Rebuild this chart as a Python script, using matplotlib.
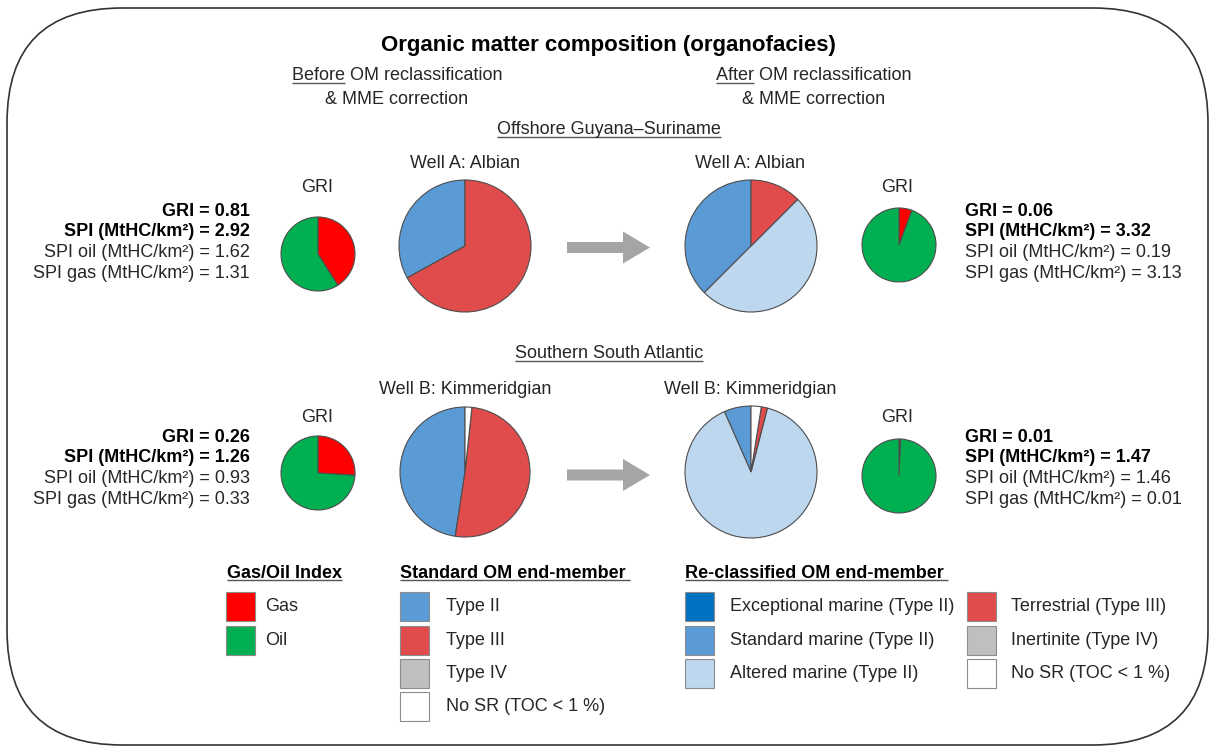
import matplotlib
matplotlib.use("Agg")
import matplotlib.pyplot as plt
from matplotlib.patches import FancyBboxPatch, Rectangle, FancyArrow

plt.rcParams['font.family'] = ['Liberation Sans', 'DejaVu Sans']

W, H = 1211, 747

# --- data ---
gri_labels = ['Gas', 'Oil']
gri_colors = ['#FF0000', '#00B050']

std_labels = ['Type II', 'Type III', 'Type IV', 'No SR (TOC < 1 %)']
std_colors = ['#5B9BD5', '#E04B4B', '#BFBFBF', '#FFFFFF']

re_labels = ['Exceptional marine (Type II)', 'Standard marine (Type II)',
             'Altered marine (Type II)', 'Terrestrial (Type III)',
             'Inertinite (Type IV)', 'No SR (TOC < 1 %)']
re_colors = ['#0070C0', '#5B9BD5', '#BDD7EE', '#E04B4B', '#BFBFBF', '#FFFFFF']

# organofacies shares (%) before reclassification: Type II, III, IV, No SR
wellA_before = [33, 67, 0, 0]
wellB_before = [47.6, 50.7, 0, 1.7]
# after reclassification: exceptional, standard, altered, terrestrial, inertinite, no SR
wellA_after = [0, 37.5, 50, 12.5, 0, 0]
wellB_after = [0, 6.6, 89.4, 1.5, 0, 2.5]

# gas / oil shares (%) for the GRI pies
griA_before = [41, 59]
griA_after = [5.7, 94.3]
griB_before = [26, 74]
griB_after = [0.7, 99.3]

statsA_before = ['GRI = 0.81', 'SPI (MtHC/km²) = 2.92',
                 'SPI oil (MtHC/km²) = 1.62', 'SPI gas (MtHC/km²) = 1.31']
statsA_after = ['GRI = 0.06', 'SPI (MtHC/km²) = 3.32',
                'SPI oil (MtHC/km²) = 0.19', 'SPI gas (MtHC/km²) = 3.13']
statsB_before = ['GRI = 0.26', 'SPI (MtHC/km²) = 1.26',
                 'SPI oil (MtHC/km²) = 0.93', 'SPI gas (MtHC/km²) = 0.33']
statsB_after = ['GRI = 0.01', 'SPI (MtHC/km²) = 1.47',
                'SPI oil (MtHC/km²) = 1.46', 'SPI gas (MtHC/km²) = 0.01']

TXT = '#262626'
FS = 13

fig = plt.figure(figsize=(W / 100, H / 100), dpi=100)
ax = fig.add_axes([0, 0, 1, 1])


def Y(y):
    # picture rows run downwards, data y runs upwards
    return H - y


def pie(vals, cols, x, y, r, counterclock=True):
    v = [a for a in vals if a > 0]
    c = [b for a, b in zip(vals, cols) if a > 0]
    ax.pie(v, colors=c, center=(x, Y(y)), radius=r, startangle=90,
           counterclock=counterclock, frame=True,
           wedgeprops=dict(edgecolor='#4D4D4D', linewidth=0.8))


pie(griA_before, gri_colors, 318, 254, 37, counterclock=False)
pie(wellA_before, std_colors, 465, 246, 66)
pie(wellA_after, re_colors, 751, 246, 66)
pie(griA_after, gri_colors, 899, 245, 37, counterclock=False)

pie(griB_before, gri_colors, 318, 473, 37, counterclock=False)
pie(wellB_before, std_colors, 465, 472, 65)
pie(wellB_after, re_colors, 751, 472, 66)
pie(griB_after, gri_colors, 899, 476, 37, counterclock=False)

ax.set_xlim(0, W)
ax.set_ylim(0, H)
ax.set_aspect('equal')
ax.set_autoscale_on(False)
ax.axis('off')

renderer = fig.canvas.get_renderer()


def T(x, y, s, **kw):
    kw.setdefault('fontsize', FS)
    kw.setdefault('color', TXT)
    kw.setdefault('ha', 'center')
    kw.setdefault('va', 'center')
    return ax.text(x, Y(y), s, **kw)


def underline(t, part=None, extra=0):
    bb = t.get_window_extent(renderer)
    w = bb.width
    if part:
        tmp = ax.text(0, 0, part, fontsize=t.get_fontsize(),
                      fontweight=t.get_fontweight())
        w = tmp.get_window_extent(renderer).width
        tmp.remove()
    ax.plot([bb.x0, bb.x0 + w + extra], [bb.y0 + 1.5, bb.y0 + 1.5],
            color='#555555', lw=1.0, solid_capstyle='butt')


# border
ax.add_patch(FancyBboxPatch((7, Y(745)), 1201, 737,
                            boxstyle='round,pad=0,rounding_size=115',
                            facecolor='none', edgecolor='#333333', lw=1.2))

# headings
T(608, 45, 'Organic matter composition (organofacies)', fontsize=16,
  fontweight='bold', color='black')
t = T(397, 76, 'Before OM reclassification')
underline(t, 'Before')
T(397, 99, '& MME correction')
t = T(814, 76, 'After OM reclassification')
underline(t, 'After')
T(814, 99, '& MME correction')
underline(T(609, 130, 'Offshore Guyana–Suriname'))
underline(T(609, 354, 'Southern South Atlantic'))

for x, y in [(317, 188), (897, 188), (317, 417), (897, 417)]:
    T(x, y, 'GRI')
for x, y, s in [(465, 163, 'Well A: Albian'), (750, 163, 'Well A: Albian'),
                (465, 390, 'Well B: Kimmeridgian'), (750, 390, 'Well B: Kimmeridgian')]:
    T(x, y, s)

# arrows
for y in [247.5, 475]:
    ax.add_patch(FancyArrow(567, Y(y), 83, 0, width=11, head_width=32,
                            head_length=27, length_includes_head=True,
                            color='#A5A5A5', lw=0))

# stats text blocks
for lines, x, y0, ha in [(statsA_before, 250, 211, 'right'),
                         (statsA_after, 965, 211, 'left'),
                         (statsB_before, 250, 437, 'right'),
                         (statsB_after, 965, 437, 'left')]:
    for i, s in enumerate(lines):
        T(x, y0 + i * 20.7, s, ha=ha,
          fontweight='bold' if i < 2 else 'normal',
          color='black' if i < 2 else TXT)

# legends
rows = [592, 626, 659, 692]


def swatch(x, ytop, col, label, lx):
    ax.add_patch(Rectangle((x, Y(ytop + 29)), 29, 29, facecolor=col,
                           edgecolor='#8C8C8C', lw=0.8))
    T(lx, ytop + 14.5, label, ha='left')


underline(T(227, 573, 'Gas/Oil Index', ha='left', fontweight='bold',
            color='black'))
for i, (lab, col) in enumerate(zip(gri_labels, gri_colors)):
    swatch(226, rows[i], col, lab, 265)

underline(T(400, 573, 'Standard OM end-member', ha='left', fontweight='bold',
            color='black'), extra=4)
for i, (lab, col) in enumerate(zip(std_labels, std_colors)):
    swatch(400, rows[i], col, lab, 446)

underline(T(685, 573, 'Re-classified OM end-member', ha='left',
            fontweight='bold', color='black'), extra=4)
for i, (lab, col) in enumerate(zip(re_labels, re_colors)):
    cx, lx = (685, 730) if i < 3 else (967, 1011)
    swatch(cx, rows[i % 3], col, lab, lx)

fig.savefig('out.png', dpi=100)
